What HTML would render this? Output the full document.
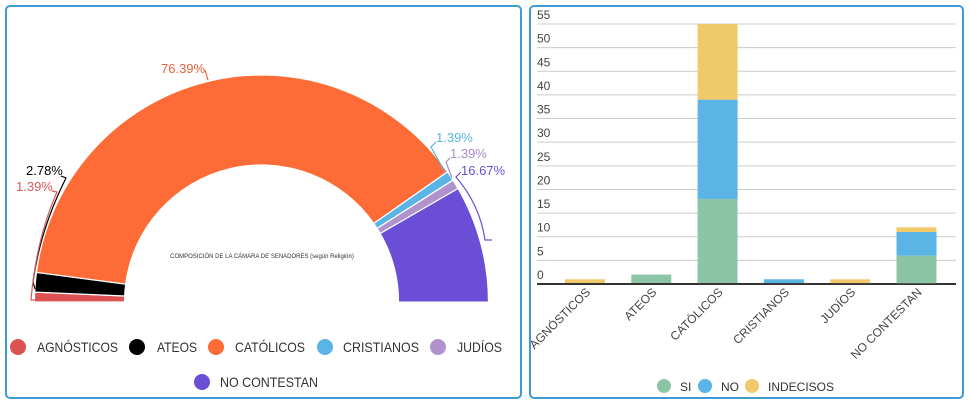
<!DOCTYPE html>
<html><head><meta charset="utf-8"><style>
body{margin:0;width:970px;height:404px;background:#fff;font-family:"Liberation Sans",sans-serif;overflow:hidden}
.p{position:absolute;border:2px solid #3d9bd6;border-radius:5px;box-sizing:border-box}
</style></head><body>
<div class="p" style="left:5px;top:5px;width:517px;height:394px"></div>
<div class="p" style="left:529px;top:5px;width:435px;height:394px"></div>
<svg width="970" height="404" style="position:absolute;left:0;top:0" font-family="Liberation Sans, sans-serif">
<g id="donut"></g>
<g font-size="13">
<text x="161" y="73" fill="#e8603c">76.39%</text>
<text x="26" y="175" fill="#000">2.78%</text>
<text x="16" y="191" fill="#d9595a">1.39%</text>
<text x="436" y="142" fill="#5ab4e5">1.39%</text>
<text x="450" y="158" fill="#a98cc9">1.39%</text>
<text x="461" y="175" fill="#6a4fd6">16.67%</text>
</g>
<g fill="none" stroke-width="1.2">
<path d="M61,176 L66,178 Q40,230 33,282 L35,289" stroke="#000"/>
<path d="M52,191 L57,192 Q36,240 31,300 L36,300" stroke="#d9595a"/>
<path d="M205,70 L208,80" stroke="#e8603c"/>
<path d="M436,142 L431,147 L445,172" stroke="#5ab4e5"/>
<path d="M450,158 L446,162 L452,178" stroke="#a98cc9"/>
<path d="M461,172 L456,177 Q480,205 485,240 L492,240" stroke="#6a4fd6"/>
</g>
<text x="262" y="258" font-size="6" text-anchor="middle" fill="#333">COMPOSICIÓN DE LA CÁMARA DE SENADORES (según Religión)</text>
<g font-size="14" fill="#333" lengthAdjust="spacingAndGlyphs">
<circle cx="18" cy="347" r="8" fill="#dc5252"/><text x="37" y="352" textLength="81" lengthAdjust="spacingAndGlyphs">AGNÓSTICOS</text>
<circle cx="137" cy="347" r="8" fill="#000"/><text x="157" y="352" textLength="40" lengthAdjust="spacingAndGlyphs">ATEOS</text>
<circle cx="216" cy="347" r="8" fill="#fd6b36"/><text x="235" y="352" textLength="70" lengthAdjust="spacingAndGlyphs">CATÓLICOS</text>
<circle cx="325" cy="347" r="8" fill="#5ab4e5"/><text x="343" y="352" textLength="76" lengthAdjust="spacingAndGlyphs">CRISTIANOS</text>
<circle cx="438" cy="347" r="8" fill="#b093cc"/><text x="457" y="352" textLength="45" lengthAdjust="spacingAndGlyphs">JUDÍOS</text>
<circle cx="202" cy="382" r="8" fill="#6a4fd6"/><text x="220" y="387" textLength="98" lengthAdjust="spacingAndGlyphs">NO CONTESTAN</text>
</g>
<g id="bars"></g>
<g font-size="12" fill="#333">
<circle cx="664" cy="386" r="7" fill="#8cc5a5"/><text x="680" y="391">SI</text>
<circle cx="705" cy="386" r="7" fill="#5ab4e5"/><text x="721" y="391">NO</text>
<circle cx="752" cy="386" r="7" fill="#f0c96a"/><text x="768" y="391">INDECISOS</text>
</g>
</svg>
<script>
var NS="http://www.w3.org/2000/svg";
function el(p,t,a,txt){var e=document.createElementNS(NS,t);for(var k in a)e.setAttribute(k,a[k]);if(txt!==undefined)e.textContent=txt;p.appendChild(e);return e;}
var cx=261.5,cy=302,R=227,r=137;
var d=[[1.39,"#dc5252"],[2.78,"#000"],[76.39,"#fd6b36"],[1.39,"#5ab4e5"],[1.39,"#b093cc"],[16.67,"#6a4fd6"]];
var g=document.getElementById("donut"),a=0;
function pt(rad,ang){var t=Math.PI*ang/180;return [cx-rad*Math.cos(t),cy-rad*Math.sin(t)];}
d.forEach(function(s){var a2=a+s[0]*1.8;var p1=pt(R,a),p2=pt(R,a2),p3=pt(r,a2),p4=pt(r,a);
var lg=(a2-a)>180?1:0;
el(g,"path",{d:"M"+p1+" A"+R+","+R+" 0 "+lg+" 1 "+p2+" L"+p3+" A"+r+","+r+" 0 "+lg+" 0 "+p4+"Z",fill:s[1],stroke:"#fff","stroke-width":1.2});a=a2;});
var b=document.getElementById("bars"),y0=284,u=260/55;
for(var i=0;i<=11;i++){var y=y0-i*5*u;el(b,"line",{x1:537,x2:956,y1:y,y2:y,stroke:i?"#ccc":"#333","stroke-width":i?1:1.5});
el(b,"text",{x:537,y:y-5,"font-size":12,fill:"#444"},String(i*5));}
var names=["AGNÓSTICOS","ATEOS","CATÓLICOS","CRISTIANOS","JUDÍOS","NO CONTESTAN"];
var vals=[[0,0,1],[2,0,0],[18,21,16],[0,1,0],[0,0,1],[6,5,1]];
var cols=["#8cc5a5","#5ab4e5","#f0c96a"];
names.forEach(function(n,k){var x=585+k*66.3,acc=0;
vals[k].forEach(function(v,j){if(v){el(b,"rect",{x:x-20,y:y0-(acc+v)*u,width:40,height:v*u,fill:cols[j]});}acc+=v;});
el(b,"line",{x1:537,x2:956,y1:y0,y2:y0,stroke:"#333","stroke-width":1.5});
var tx=x+6,ty=y0+9;
el(b,"text",{x:tx,y:ty,"font-size":12,fill:"#444","text-anchor":"end",transform:"rotate(-45 "+tx+" "+ty+")"},n);});
</script>
</body></html>
